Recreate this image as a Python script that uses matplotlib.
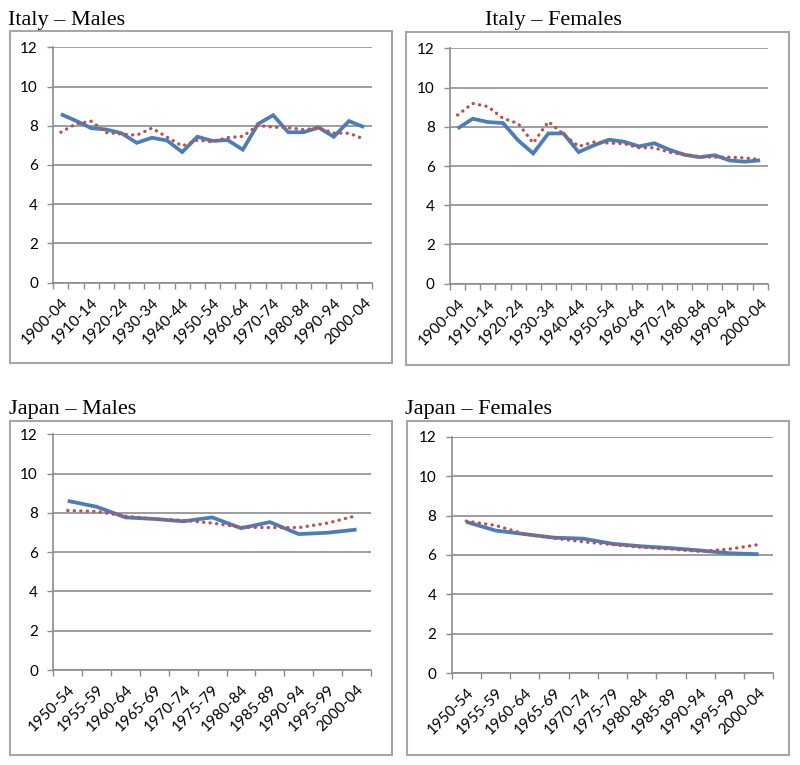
import matplotlib
matplotlib.use("Agg")
import matplotlib.pyplot as plt
from matplotlib.patches import Rectangle

# ---------------- data ----------------
italy_periods = ["1900-04", "1905-09", "1910-14", "1915-19", "1920-24", "1925-29",
                 "1930-34", "1935-39", "1940-44", "1945-49", "1950-54", "1955-59",
                 "1960-64", "1965-69", "1970-74", "1975-79", "1980-84", "1985-89",
                 "1990-94", "1995-99", "2000-04"]
japan_periods = ["1950-54", "1955-59", "1960-64", "1965-69", "1970-74", "1975-79",
                 "1980-84", "1985-89", "1990-94", "1995-99", "2000-04"]

italy_males_solid = [8.59, 8.25, 7.88, 7.81, 7.62, 7.13, 7.39, 7.25, 6.66, 7.44, 7.23,
                     7.27, 6.78, 8.09, 8.54, 7.67, 7.67, 7.91, 7.44, 8.24, 7.93]
italy_males_dotted = [7.67, 8.10, 8.23, 7.65, 7.58, 7.52, 7.88, 7.42, 6.97, 7.27, 7.18,
                      7.40, 7.46, 8.02, 7.93, 7.90, 7.80, 7.88, 7.63, 7.62, 7.32]

italy_females_solid = [7.91, 8.41, 8.24, 8.19, 7.31, 6.64, 7.66, 7.66, 6.71, 7.05, 7.34,
                       7.24, 7.00, 7.16, 6.83, 6.57, 6.45, 6.55, 6.28, 6.22, 6.29]
italy_females_dotted = [8.60, 9.19, 9.03, 8.43, 8.17, 7.17, 8.26, 7.62, 7.00, 7.22, 7.17,
                        7.14, 6.93, 6.93, 6.70, 6.59, 6.47, 6.45, 6.45, 6.41, 6.33]

japan_males_solid = [8.61, 8.31, 7.77, 7.69, 7.57, 7.77, 7.22, 7.53, 6.92, 6.99, 7.15]
japan_males_dotted = [8.12, 8.07, 7.83, 7.69, 7.62, 7.48, 7.27, 7.25, 7.25, 7.48, 7.86]

japan_females_solid = [7.68, 7.24, 7.06, 6.88, 6.83, 6.57, 6.44, 6.35, 6.23, 6.09, 6.04]
japan_females_dotted = [7.72, 7.50, 7.06, 6.85, 6.67, 6.53, 6.39, 6.30, 6.18, 6.30, 6.53]

titles = ["Italy \u2013 Males", "Italy \u2013 Females", "Japan \u2013 Males", "Japan \u2013 Females"]
y_ticks = [0, 2, 4, 6, 8, 10, 12]

# ---------------- style ----------------
W, H = 800, 765
BLUE = "#4A7EBB"
RED = "#C0504D"
GRID = "#8C8C8C"
BOX = "#A6A6A6"
TICKFONT = ["Lato", "DejaVu Sans"]
TITLEFONT = ["Liberation Serif", "DejaVu Serif"]

fig = plt.figure(figsize=(W / 100, H / 100), dpi=100)


def frac(l, t, r, b):
    return [l / W, 1 - b / H, (r - l) / W, (b - t) / H]


panels = [
    (titles[0], 8, 25, (10, 31, 392, 363), (53.3, 47.3, 371.7, 282.7), italy_periods, 2,
     italy_males_solid, italy_males_dotted),
    (titles[1], 485, 25, (406, 32, 789, 365), (450, 48.3, 767.7, 283.7), italy_periods, 2,
     italy_females_solid, italy_females_dotted),
    (titles[2], 9, 414, (10, 421, 392, 755), (53.3, 434.3, 371, 670), japan_periods, 1,
     japan_males_solid, japan_males_dotted),
    (titles[3], 405, 414, (407, 421, 789, 755), (451.7, 436.7, 773.3, 673.3), japan_periods, 1,
     japan_females_solid, japan_females_dotted),
]

for (title, tx, ty, box, axpos, cats, step, solid, dotted) in panels:
    bl, bt, br, bb = box
    fig.patches.append(Rectangle((bl / W, 1 - bb / H), (br - bl) / W, (bb - bt) / H,
                                 transform=fig.transFigure, fill=False,
                                 edgecolor=BOX, linewidth=1.5, zorder=0))
    fig.text(tx / W, 1 - ty / H, title, family=TITLEFONT, fontsize=16,
             va="baseline", ha="left", color="black")

    ax = fig.add_axes(frac(*axpos))
    n = len(cats)
    x = list(range(n))
    ax.plot(x, solid, color=BLUE, linewidth=2.7, solid_joinstyle="miter",
            solid_capstyle="butt", zorder=3)
    ax.plot(x, dotted, color=RED, linewidth=2.4, linestyle=(0, (0.05, 1.9)),
            dash_capstyle="round", zorder=4)

    ax.set_xlim(-0.5, n - 0.5)
    ax.set_ylim(0, 12)
    ax.set_yticks(y_ticks)
    ax.set_yticklabels([str(v) for v in y_ticks], family=TICKFONT, fontsize=11)
    ax.yaxis.grid(True, color=GRID, linewidth=1.2)
    ax.set_axisbelow(True)

    ax.set_xticks([i - 0.5 for i in range(n + 1)])
    ax.set_xticklabels([])
    ax.set_xticks(x[::step], minor=True)
    ax.set_xticklabels(cats[::step], minor=True, rotation=45, ha="right",
                       rotation_mode="anchor", family=TICKFONT, fontsize=11)
    ax.tick_params(axis="x", which="major", direction="out", length=4, width=1,
                   color=GRID)
    ax.tick_params(axis="x", which="minor", length=0, pad=9)
    ax.tick_params(axis="y", direction="out", length=4, width=1, color=GRID, pad=7)

    for s in ("top", "right"):
        ax.spines[s].set_visible(False)
    for s in ("left", "bottom"):
        ax.spines[s].set_color(GRID)
        ax.spines[s].set_linewidth(1.2)
    ax.patch.set_alpha(0)

fig.savefig("out.png", dpi=100)
